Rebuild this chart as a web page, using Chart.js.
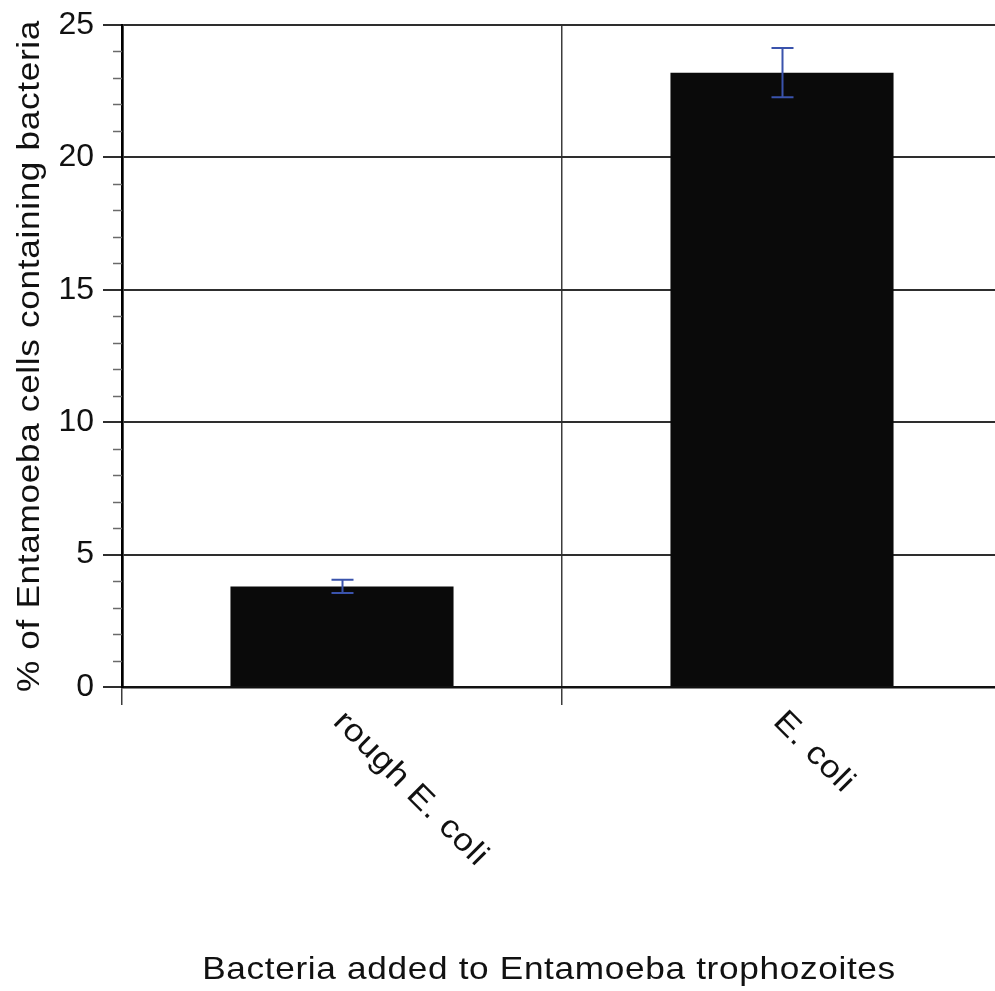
<!DOCTYPE html>
<html>
<head>
<meta charset="utf-8">
<title>Entamoeba uptake of bacteria</title>
<script src="https://cdn.jsdelivr.net/npm/chart.js@4/dist/chart.umd.min.js"></script>
<style>
  html, body { margin: 0; padding: 0; background: #ffffff; overflow: hidden; }
  #wrap { position: relative; width: 1010px; height: 991px; }
</style>
</head>
<body>
<div id="wrap"><canvas id="chart"></canvas></div>
<script>
// Bacteria strains fed to the trophozoites
const categories = ['rough E. coli', 'E. coli'];
// Mean % of Entamoeba cells containing bacteria
const percentValues = [3.8, 23.2];
// Error (+/-) for each mean
const percentErrors = [0.25, 0.93];
// Y axis range and tick spacing
const yMin = 0;
const yMax = 25;
const yMajorStep = 5;
const yMinorStep = 1;
// Axis titles
const xTitle = 'Bacteria added to Entamoeba trophozoites';
const yTitle = '% of Entamoeba cells containing bacteria';

const FONT = "'Liberation Sans', Arial, Helvetica, sans-serif";
const TEXT_COLOR = '#111111';
// wide-set lettering used for the titles and category labels
const TEXT_STRETCH = 1.1;

// Short unlabeled ticks between the major y ticks
const minorTicks = {
  id: 'minorTicks',
  afterDraw(chart) {
    const y = chart.scales.y;
    const ctx = chart.ctx;
    const x0 = chart.chartArea.left;
    ctx.save();
    ctx.strokeStyle = '#6a6a6a';
    ctx.lineWidth = 1.5;
    for (let v = yMin; v <= yMax; v += yMinorStep) {
      if (v % yMajorStep === 0) continue;
      const py = Math.round(y.getPixelForValue(v)) + 0.5;
      ctx.beginPath();
      ctx.moveTo(x0 - 9, py);
      ctx.lineTo(x0, py);
      ctx.stroke();
    }
    ctx.restore();
  }
};

// Vertical error bars with caps, centred on each bar
const errorBars = {
  id: 'errorBars',
  afterDatasetsDraw(chart) {
    const ctx = chart.ctx;
    const y = chart.scales.y;
    const meta = chart.getDatasetMeta(0);
    ctx.save();
    ctx.strokeStyle = '#3a53ac';
    ctx.lineWidth = 2;
    meta.data.forEach((bar, i) => {
      const cx = Math.round(bar.x) + 0.5;
      const top = y.getPixelForValue(percentValues[i] + percentErrors[i]);
      const bot = y.getPixelForValue(percentValues[i] - percentErrors[i]);
      const half = 11;
      ctx.beginPath();
      ctx.moveTo(cx, top); ctx.lineTo(cx, bot);
      ctx.moveTo(cx - half, top); ctx.lineTo(cx + half, top);
      ctx.moveTo(cx - half, bot); ctx.lineTo(cx + half, bot);
      ctx.stroke();
    });
    ctx.restore();
  }
};

// Slanted category labels and both axis titles
const axisText = {
  id: 'axisText',
  afterDraw(chart) {
    const ctx = chart.ctx;
    const xs = chart.scales.x;
    const area = chart.chartArea;
    ctx.save();
    ctx.fillStyle = TEXT_COLOR;
    ctx.font = '32px ' + FONT;
    ctx.letterSpacing = '0.6px';
    ctx.textBaseline = 'alphabetic';

    // category labels, rotated 45 degrees downward from each bar centre
    categories.forEach((label, i) => {
      const px = xs.getPixelForValue(i);
      ctx.save();
      ctx.translate(px - 10, area.bottom + 36);
      ctx.rotate(Math.PI / 4);
      ctx.scale(TEXT_STRETCH, 1);
      ctx.textAlign = 'left';
      ctx.fillText(label, 0, 0);
      ctx.restore();
    });

    // x axis title
    ctx.save();
    ctx.translate(549, 979);
    ctx.scale(TEXT_STRETCH, 1);
    ctx.textAlign = 'center';
    ctx.fillText(xTitle, 0, 0);
    ctx.restore();

    // y axis title, reading bottom to top
    ctx.save();
    ctx.translate(39, (area.top + area.bottom) / 2);
    ctx.rotate(-Math.PI / 2);
    ctx.scale(TEXT_STRETCH, 1);
    ctx.textAlign = 'center';
    ctx.fillText(yTitle, 0, 0);
    ctx.restore();

    ctx.restore();
  }
};

new Chart(document.getElementById('chart'), {
  type: 'bar',
  data: {
    labels: categories,
    datasets: [{
      data: percentValues,
      backgroundColor: '#0a0a0a',
      borderWidth: 0,
      categoryPercentage: 1.0,
      barPercentage: 0.507
    }]
  },
  options: {
    responsive: true,
    maintainAspectRatio: false,
    animation: false,
    devicePixelRatio: 1,
    layout: { padding: { left: 0, top: 25, right: 8, bottom: 0 } },
    plugins: {
      legend: { display: false },
      tooltip: { enabled: false },
      title: { display: false }
    },
    scales: {
      x: {
        type: 'category',
        offset: true,
        grid: {
          display: true,
          offset: true,
          drawOnChartArea: true,
          drawTicks: true,
          tickLength: 18,
          color: '#3c3c3c',
          lineWidth: 1.5,
          tickColor: '#3c3c3c',
          tickWidth: 1.5
        },
        border: { display: true, color: '#111111', width: 2.5 },
        ticks: { display: false },
        afterFit(scale) { scale.height = 304; }
      },
      y: {
        type: 'linear',
        min: yMin,
        max: yMax,
        grid: {
          color: '#2e2e2e',
          lineWidth: 2,
          drawTicks: true,
          tickLength: 19,
          tickColor: '#2e2e2e',
          tickWidth: 2
        },
        border: { display: true, color: '#000000', width: 2.7 },
        ticks: {
          stepSize: yMajorStep,
          padding: 9,
          color: TEXT_COLOR,
          font: { family: FONT, size: 32, lineHeight: 0.9 }
        },
        afterFit(scale) { scale.width = 122; }
      }
    }
  },
  plugins: [minorTicks, errorBars, axisText]
});
</script>
</body>
</html>
